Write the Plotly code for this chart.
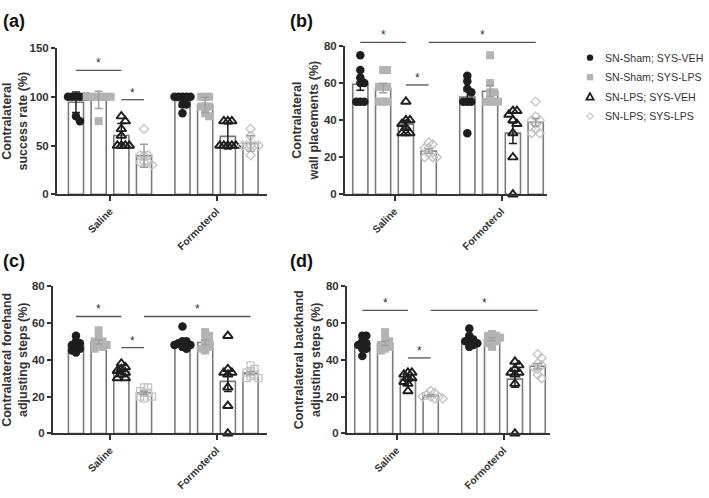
import numpy as np
import plotly.graph_objects as go

W, H = 709, 498

groups = ["Saline", "Formoterol"]
series_names = ["SN-Sham; SYS-VEH", "SN-Sham; SYS-LPS", "SN-LPS; SYS-VEH", "SN-LPS; SYS-LPS"]

# ---- data (per panel: [saline series..., formoterol series...]) ----
a_saline = [[100, 100, 100, 100, 100, 100, 80, 75],
            [100, 100, 100, 100, 100, 100, 100, 75],
            [80, 75, 67, 60, 50, 50, 50, 50],
            [67, 40, 40, 40, 33, 33, 33, 30]]
a_formoterol = [[100, 100, 100, 100, 100, 92, 92, 83],
                [100, 100, 100, 90, 90, 90, 83, 80],
                [75, 75, 75, 50, 50, 50, 50, 50],
                [67, 60, 50, 50, 50, 50, 50, 40]]

b_saline = [[75, 67, 63, 60, 60, 50, 50, 50],
            [67, 67, 58, 58, 58, 50, 50, 50],
            [50, 40, 40, 38, 36, 33, 33, 33],
            [28, 27, 25, 25, 22, 20, 20, 20]]
b_formoterol = [[64, 61, 57, 55, 50, 50, 50, 33],
                [75, 60, 55, 55, 50, 50, 50, 50],
                [45, 45, 43, 40, 38, 33, 20, 0],
                [50, 42, 40, 40, 38, 35, 33, 33]]

c_saline = [[53, 50, 49, 48, 47, 46, 45, 44],
            [56, 52, 50, 50, 48, 48, 47, 46],
            [38, 36, 35, 34, 33, 32, 30, 30],
            [25, 25, 23, 22, 22, 20, 20, 19]]
c_formoterol = [[58, 50, 50, 49, 48, 48, 47, 46],
                [55, 53, 51, 50, 48, 47, 46, 45],
                [53, 35, 33, 33, 32, 25, 15, 0],
                [37, 35, 34, 33, 32, 31, 30, 30]]

d_saline = [[53, 53, 50, 49, 48, 46, 46, 42],
            [55, 52, 50, 49, 48, 47, 46, 45],
            [33, 33, 32, 30, 30, 28, 27, 23],
            [23, 22, 21, 20, 20, 20, 19, 19]]
d_formoterol = [[57, 53, 51, 50, 50, 49, 48, 47],
                [54, 53, 53, 52, 51, 50, 49, 47],
                [39, 37, 35, 33, 33, 32, 27, 0],
                [43, 41, 38, 37, 36, 35, 32, 30]]

# significance: (group, series) -> (group, series), height
a_sig = [((0, 0), (0, 2), 127), ((0, 2), (0, 3), 97)]
b_sig = [((0, 0), (0, 2), 82), ((0, 2), (0, 3), 59), ((0, 3), (1, 3), 82)]
c_sig = [((0, 0), (0, 2), 63.5), ((0, 2), (0, 3), 46.6), ((0, 3), (1, 3), 63.5)]
d_sig = [((0, 0), (0, 2), 66.8), ((0, 2), (0, 3), 41), ((0, 3), (1, 3), 66.8)]

y_titles = ["Contralateral<br>success rate (%)",
            "Contralateral<br>wall placements (%)",
            "Contralateral forehand<br>adjusting steps (%)",
            "Contralateral backhand<br>adjusting steps (%)"]
panel_labels = ["(a)", "(b)", "(c)", "(d)"]
y_max = [150, 80, 80, 80]
y_dtick = [50, 20, 20, 20]
err_kind = ["sd", "sem", "sem", "sem"]

# ---- layout geometry (pixels) ----
# axis_left_px, y0_px, ytop_px, px_per_x_unit, group0_center_px, right_px
geom = [
    (57, 193, 43, 106.5, 110, 267),
    (345, 193, 41, 107, 394.5, 547),
    (53, 438, 287, 106.5, 110, 267),
    (347, 438, 287, 107, 396.5, 550),
]
label_pos = [(1, 15), (288, 15), (1, 261), (288, 261)]
legend_rows_px = [53, 73, 93, 113]
legend_marker_px = 590
legend_text_px = 603

off = np.array([-1.5, -0.5, 0.5, 1.5]) * 0.213
bar_w = 0.142

BLACK = "#1e1e1e"
GRAY = "#b3b3b3"
LGRAY = "#c3c3c3"
BARLINE = "#7a7a7a"
AX = "#333333"


def marker_style(s, panel, size_scale=1.0):
    if s == 0:
        return dict(symbol="circle", size=8.5 * size_scale, color=BLACK, line=dict(width=0))
    if s == 1:
        return dict(symbol="square", size=8 * size_scale, color=GRAY, line=dict(width=0))
    if s == 2:
        return dict(symbol="triangle-up-open", size=8.5 * size_scale, color=BLACK, line=dict(width=1.9, color=BLACK))
    if panel == 2:
        return dict(symbol="square-open", size=7 * size_scale, color=LGRAY, line=dict(width=1.3, color=LGRAY))
    return dict(symbol="diamond-open", size=7 * size_scale, color=LGRAY, line=dict(width=1.3, color=LGRAY))


def swarm(vals, py_per_unit, px_per_x, d=7.0, step=4.0):
    order = np.argsort(-np.array(vals), kind="stable")
    placed = []
    res = [0.0] * len(vals)
    for i in order:
        ypx = vals[i] * py_per_unit
        cands = [0.0]
        for j in range(1, 12):
            cands += [j * step, -j * step]
        for c in cands:
            ok = True
            for (px, pyy) in placed:
                if abs(px - c) < step * 0.9 and abs(pyy - ypx) < d * 0.8:
                    ok = False
                    break
            if ok:
                res[i] = c
                placed.append((c, ypx))
                break
    return [r / px_per_x for r in res]


panels = [(a_saline, a_formoterol, a_sig), (b_saline, b_formoterol, b_sig),
          (c_saline, c_formoterol, c_sig), (d_saline, d_formoterol, d_sig)]

fig = go.Figure()
layout = dict(width=W, height=H, margin=dict(l=0, r=0, t=0, b=0),
              paper_bgcolor="white", plot_bgcolor="white", showlegend=False,
              barmode="overlay",
              font=dict(family="Liberation Sans, Arial", color=AX))
shapes, annotations = [], []

for p, (sal, frm, sig) in enumerate(panels):
    ax_l, y0, ytop, ppu, g0, right = geom[p]
    xr = [(ax_l - g0) / ppu, (right - g0) / ppu]
    xa = "x" if p == 0 else f"x{p+1}"
    ya = "y" if p == 0 else f"y{p+1}"
    xkey = "xaxis" if p == 0 else f"xaxis{p+1}"
    ykey = "yaxis" if p == 0 else f"yaxis{p+1}"
    py_per_unit = (y0 - ytop) / y_max[p]
    data = [sal, frm]

    for s in range(4):
        xs = [g + off[s] for g in range(2)]
        vals = [data[g][s] for g in range(2)]
        means = [float(np.mean(v)) for v in vals]
        if err_kind[p] == "sd":
            errs = [float(np.std(v, ddof=1)) for v in vals]
        else:
            errs = [float(np.std(v, ddof=1) / np.sqrt(len(v))) for v in vals]
        fig.add_trace(go.Bar(x=xs, y=means, width=bar_w, xaxis=xa, yaxis=ya,
                             marker=dict(color="white", line=dict(color=BARLINE, width=1.6)),
                             showlegend=False, hoverinfo="skip"))
        px_, py_ = [], []
        for g in range(2):
            jit = swarm(vals[g], py_per_unit, ppu)
            px_ += [xs[g] + j for j in jit]
            py_ += list(vals[g])
        fig.add_trace(go.Scatter(x=px_, y=py_, mode="markers", xaxis=xa, yaxis=ya,
                                 marker=marker_style(s, p), showlegend=False, cliponaxis=False))
        ecol = BLACK if s in (0, 2) else ("#a0a0a0")
        fig.add_trace(go.Scatter(x=xs, y=means, mode="markers", xaxis=xa, yaxis=ya,
                                 marker=dict(size=1, color="rgba(0,0,0,0)"),
                                 error_y=dict(type="data", array=errs, color=ecol, thickness=1.5, width=4),
                                 showlegend=False, hoverinfo="skip"))

    for (g1, s1), (g2, s2), h in sig:
        x1 = g1 + off[s1]
        x2 = g2 + off[s2]
        yd = h / y_max[p]
        shapes.append(dict(type="line", xref=xa, yref=f"{ya} domain", x0=x1, x1=x2, y0=yd, y1=yd,
                           line=dict(color="#555555", width=1.3)))
        annotations.append(dict(text="*", xref=xa, yref=f"{ya} domain", x=(x1 + x2) / 2, y=yd,
                                yanchor="bottom", showarrow=False, yshift=-2,
                                font=dict(size=12, color=AX)))

    dom_x = [ax_l / W, (ax_l + (xr[1] - xr[0]) * ppu) / W]
    dom_y = [(H - y0) / H, (H - ytop) / H]
    layout[xkey] = dict(domain=dom_x, range=xr, anchor=ya, tickmode="array",
                        tickvals=[0, 1], ticktext=groups, tickangle=-45,
                        ticks="outside", ticklen=5, tickwidth=1.6, tickcolor=AX,
                        showline=True, linecolor=AX, linewidth=2, showgrid=False, zeroline=False,
                        tickfont=dict(size=10.3, color=AX, weight="bold"))
    layout[ykey] = dict(domain=dom_y, range=[0, y_max[p]], anchor=xa, dtick=y_dtick[p],
                        ticks="outside", ticklen=4, tickwidth=1.6, tickcolor=AX,
                        showline=True, linecolor=AX, linewidth=2, showgrid=False, zeroline=False,
                        tickfont=dict(size=11.5, color=AX, weight="bold"),
                        title=dict(text=y_titles[p], font=dict(size=12.5, color=AX, weight="bold"),
                                   standoff=3))
    lx, ly = label_pos[p]
    annotations.append(dict(text=panel_labels[p], xref="paper", yref="paper", x=lx / W, y=(H - ly) / H,
                            xanchor="left", yanchor="middle", showarrow=False,
                            font=dict(size=18, color="#111111", weight="bold")))


# manual legend: symbols drawn as paper shapes, labels as annotations
def px2paper(xp, yp):
    return xp / W, (H - yp) / H


for s in range(4):
    cx, cy = legend_marker_px, legend_rows_px[s]
    r = 3.2
    if s == 0:
        x0, y0_ = px2paper(cx - r, cy + r)
        x1, y1_ = px2paper(cx + r, cy - r)
        shapes.append(dict(type="circle", xref="paper", yref="paper", x0=x0, y0=y0_, x1=x1, y1=y1_,
                           fillcolor=BLACK, line=dict(width=0)))
    elif s == 1:
        x0, y0_ = px2paper(cx - r, cy + r)
        x1, y1_ = px2paper(cx + r, cy - r)
        shapes.append(dict(type="rect", xref="paper", yref="paper", x0=x0, y0=y0_, x1=x1, y1=y1_,
                           fillcolor=GRAY, line=dict(width=0)))
    elif s == 2:
        pts = [px2paper(cx - 3.6, cy + 3), px2paper(cx + 3.6, cy + 3), px2paper(cx, cy - 3.8)]
        path = "M {} {} L {} {} L {} {} Z".format(*[v for pt in pts for v in pt])
        shapes.append(dict(type="path", xref="paper", yref="paper", path=path,
                           line=dict(color=BLACK, width=1.8)))
    else:
        pts = [px2paper(cx, cy - 3.2), px2paper(cx + 3.2, cy), px2paper(cx, cy + 3.2), px2paper(cx - 3.2, cy)]
        path = "M {} {} L {} {} L {} {} L {} {} Z".format(*[v for pt in pts for v in pt])
        shapes.append(dict(type="path", xref="paper", yref="paper", path=path,
                           line=dict(color=LGRAY, width=1.1)))
    annotations.append(dict(text=series_names[s], xref="paper", yref="paper",
                            x=legend_text_px / W, y=(H - legend_rows_px[s]) / H,
                            xanchor="left", yanchor="middle", showarrow=False,
                            font=dict(size=10.6, color=AX)))

layout["shapes"] = shapes
layout["annotations"] = annotations
fig.update_layout(**layout)
fig.write_html("out.html", config={"displayModeBar": False},
               post_script="document.body.style.margin='0';document.body.style.padding='0';")
